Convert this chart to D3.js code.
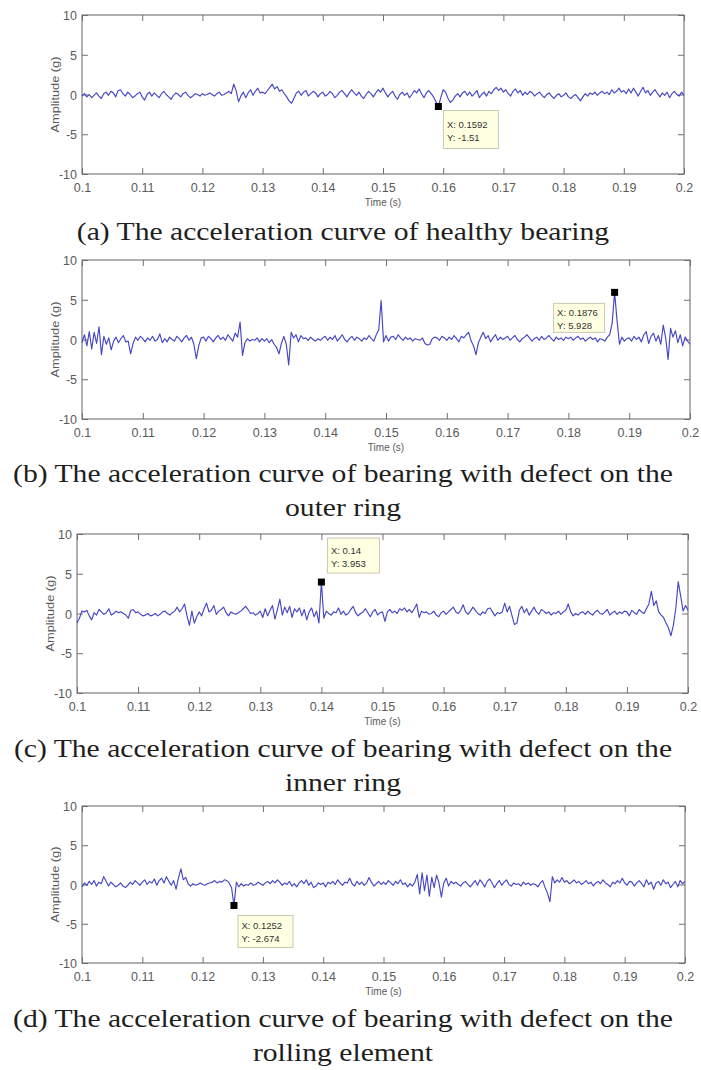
<!DOCTYPE html>
<html>
<head>
<meta charset="utf-8">
<script src="https://cdn.jsdelivr.net/npm/d3@7"></script>
<style>
  body { margin: 0; background: #fff; }
  svg { display: block; }
</style>
</head>
<body>
<svg id="fig" width="701" height="1070"></svg>
<script>
// Sampling grid of the recorded signals (s)
const timeStart = 0.1;
const samplePeriod = 0.0004;

// Axis ticks
const xTicks = [0.1, 0.11, 0.12, 0.13, 0.14, 0.15, 0.16, 0.17, 0.18, 0.19, 0.2];
const yTicks = [-10, -5, 0, 5, 10];

// Acceleration amplitude (g), one value per sample
const healthy = [
  -0.2,0.1,-0.3,0.0,-0.4,-0.1,0.2,-0.2,-0.5,0.1,0.3,-0.1,0.4,0.2,-0.3,0.5,0.6,0.1,-0.2,0.3,0.0,-0.4,-0.2,0.1,0.3,
  -0.3,-0.7,0.0,0.3,-0.2,0.2,-0.1,-0.4,0.1,0.4,0.0,-0.3,-0.6,-0.1,0.2,0.0,-0.3,0.1,0.3,-0.1,-0.4,-0.2,0.1,0.0,-0.2,
  0.1,-0.1,0.0,0.2,0.0,-0.2,0.1,0.3,-0.1,0.0,0.2,0.4,0.1,1.3,0.5,-0.9,-0.2,0.3,-0.4,0.2,0.6,-0.1,0.4,0.8,0.2,
  0.3,0.1,0.5,0.9,1.3,0.7,1.0,0.4,0.6,0.1,-0.3,-0.8,-1.1,-0.5,0.2,0.4,-0.1,0.3,0.5,-0.2,0.1,0.4,0.2,-0.3,0.1,
  0.3,-0.2,0.0,0.4,0.1,-0.4,-0.1,0.3,0.5,0.1,-0.3,0.2,0.6,0.2,-0.1,0.3,-0.2,-0.5,0.0,0.4,0.1,-0.3,0.2,0.6,0.3,
  0.8,0.2,-0.3,0.1,0.4,-0.2,-0.6,0.0,0.3,-0.1,0.2,-0.4,0.0,0.5,0.2,0.7,0.1,-0.4,0.2,0.5,0.1,-0.3,-0.9,-1.51,-0.4,
  0.6,0.3,-0.5,-1.0,-0.7,-0.2,0.1,-0.3,0.2,0.4,-0.1,0.3,-0.2,0.1,0.5,-0.4,0.0,0.3,-0.2,0.4,0.1,0.6,0.9,0.5,0.8,
  0.3,0.6,0.1,-0.2,0.4,0.7,0.2,0.5,-0.1,0.3,0.0,0.4,0.2,-0.2,0.1,0.3,-0.1,-0.4,0.0,0.2,-0.2,-0.5,-0.1,0.1,-0.3,
  -0.1,0.2,-0.3,-0.5,-0.2,0.0,-0.4,-0.8,-0.3,0.1,-0.2,0.2,0.0,0.3,-0.1,0.2,0.4,0.1,0.3,0.0,0.6,0.2,0.4,0.8,0.3,
  0.5,0.1,0.7,0.2,0.8,0.3,-0.2,0.4,0.9,0.2,0.5,-0.1,0.3,0.6,0.1,-0.3,0.2,-0.1,0.3,-0.4,0.1,0.4,0.0,-0.2,0.3,
  -0.1
];

const outerRing = [
  -0.4,0.6,-0.8,1.0,-1.2,0.9,-0.5,1.6,-1.9,0.4,-0.6,0.2,-1.3,-0.2,0.3,-0.4,0.1,0.5,-0.3,-0.2,-1.8,-0.5,0.3,-0.1,0.4,
  0.1,-0.3,0.2,-0.1,0.4,-0.2,0.0,0.7,-0.4,0.1,-0.3,0.3,0.0,-0.2,0.4,0.1,-0.3,0.2,0.5,-0.1,0.3,-0.6,-2.4,-0.8,0.2,
  0.3,-0.2,0.4,0.1,-0.3,0.2,0.5,0.0,0.3,-0.1,0.6,0.2,-0.2,0.8,0.3,2.2,-2.0,-0.4,0.1,-0.2,0.0,-0.1,0.2,-0.3,0.1,
  -0.2,0.1,-0.4,0.0,-0.6,-1.0,-1.8,-0.5,0.4,-0.6,-3.2,0.9,0.2,0.6,-0.3,0.5,0.1,0.2,-0.1,0.3,0.0,-0.2,0.1,-0.1,0.2,
  0.4,-0.1,0.3,0.0,0.5,-0.2,0.2,0.6,0.0,-0.3,0.1,0.4,-0.1,0.3,0.1,-0.2,0.2,0.0,0.5,0.1,-0.2,0.6,1.2,4.9,-0.3,
  0.5,-0.2,0.3,0.4,0.0,0.6,0.2,-0.1,0.3,0.0,0.2,-0.2,0.1,0.0,-0.1,0.2,-0.5,-0.7,-0.6,0.1,0.3,0.2,-0.1,0.4,0.2,
  -0.1,0.3,0.0,0.5,0.1,-0.3,0.4,0.2,0.6,0.9,-0.2,-0.8,-1.9,-0.4,0.3,0.9,0.1,0.5,-0.3,0.2,0.6,-0.1,0.3,0.0,0.2,
  0.4,-0.1,0.2,0.5,0.0,-0.3,0.1,0.3,0.6,0.2,-0.2,0.1,0.3,-0.1,0.4,0.0,0.2,0.5,0.1,-0.2,0.3,0.0,0.2,-0.1,0.3,
  0.1,0.3,-0.1,0.2,0.4,0.0,0.2,-0.2,0.1,0.3,0.0,0.2,-0.3,0.1,0.0,-0.2,0.3,0.6,2.1,5.928,2.4,-0.6,0.3,-0.2,0.1,
  0.2,-0.2,0.4,0.0,0.3,-0.3,0.6,1.0,-0.5,0.4,0.8,-0.2,0.5,-0.6,1.8,0.2,-2.5,1.4,0.3,1.1,-0.4,0.6,-0.8,0.3,-0.2,
  -0.6
];

const innerRing = [
  -1.2,-0.6,0.3,0.2,0.4,-0.3,-0.8,0.1,-0.2,0.5,0.2,-0.1,0.1,0.6,-0.2,0.0,0.3,0.1,0.2,0.0,-0.2,-0.6,0.4,0.5,0.1,
  0.2,-0.1,-0.3,-0.2,0.0,-0.3,-0.2,0.0,-0.3,-0.1,0.2,0.3,0.0,-0.2,0.1,0.3,0.8,0.2,0.6,1.2,-0.3,-1.5,0.3,-1.2,-0.4,
  0.2,-0.3,0.6,1.3,0.2,0.4,1.0,-0.1,0.3,0.5,0.8,0.1,-0.3,0.2,0.0,-0.1,0.1,0.3,0.6,0.9,0.5,0.0,0.1,-0.2,0.0,
  0.3,-0.5,0.6,-0.3,0.4,1.0,-0.7,0.5,1.8,-0.2,0.8,0.1,0.9,-0.5,0.6,0.2,0.7,-0.3,0.5,-0.8,0.2,0.7,-0.4,0.3,-1.2,
  3.953,-0.6,0.3,0.0,-0.2,0.2,0.1,0.7,-0.1,0.3,-0.2,0.0,0.5,0.9,0.1,-0.3,0.0,0.2,0.6,0.1,-0.4,0.2,0.5,-0.2,0.1,
  0.2,-1.0,0.2,0.5,0.1,0.3,0.0,0.6,0.4,0.7,0.2,0.5,0.1,0.6,1.2,-0.5,0.3,0.1,0.2,-0.1,0.0,0.3,-0.2,-0.4,0.1,
  0.3,-0.1,0.2,0.5,0.8,0.2,0.0,0.4,1.1,0.2,-0.1,0.3,0.8,0.4,0.0,-0.2,0.2,0.0,0.6,0.7,0.2,-0.3,0.1,0.0,0.2,
  1.3,0.2,0.9,-0.3,-1.4,-1.2,0.4,0.9,0.1,0.6,-0.2,0.3,0.8,0.2,-0.1,0.5,0.3,0.0,0.2,-0.2,0.1,0.0,0.3,-0.1,0.2,
  0.4,1.2,0.2,-0.3,0.0,-0.2,0.1,0.2,-0.1,0.3,0.0,-0.2,0.2,0.4,0.0,-0.1,0.2,0.5,-0.2,0.1,0.3,-0.1,0.2,0.0,0.3,
  0.2,-0.3,0.4,0.1,-0.1,0.5,0.2,0.0,0.6,1.2,2.8,1.0,1.6,0.2,-0.2,-0.5,-1.2,-1.8,-2.8,-1.5,0.6,4.0,2.2,0.3,1.0,
  0.4
];

const rollingElement = [
  -0.3,0.2,-0.1,0.4,0.0,0.5,-0.2,0.3,0.1,1.0,0.4,-0.2,0.3,0.0,-0.3,-0.1,0.2,-0.2,-0.4,-0.1,0.3,0.0,0.5,0.2,-0.1,
  0.3,0.6,0.0,0.4,0.2,0.7,-0.1,0.5,0.8,0.2,1.0,0.4,-0.1,0.5,-0.6,0.8,2.0,0.6,0.9,0.1,-0.2,0.1,-0.1,0.0,0.2,
  0.0,-0.1,0.1,0.2,0.3,0.5,0.2,0.4,0.3,0.6,0.5,0.2,-0.4,-2.674,0.3,-0.3,0.1,-0.2,0.0,-0.1,0.2,-0.1,0.0,0.3,0.1,
  -0.1,0.2,0.4,0.1,0.5,0.2,0.6,0.3,-0.1,0.2,0.0,0.4,-0.2,0.1,-0.3,0.2,0.5,0.1,0.6,-0.1,0.3,-0.4,-0.2,0.2,0.0,
  0.2,-0.3,0.3,0.1,0.4,0.0,0.6,0.2,-0.1,0.3,0.2,0.8,0.1,-0.2,0.4,0.0,0.3,-0.1,0.2,0.9,0.3,-0.2,0.1,0.4,0.0,
  0.3,0.0,0.5,0.2,-0.1,0.4,0.1,0.6,0.0,0.2,-0.3,0.1,-0.2,0.3,1.3,-1.2,1.5,-0.8,1.2,-1.5,0.9,-0.4,1.2,0.2,-1.6,
  0.2,0.8,-0.2,0.4,0.1,0.3,0.0,-0.2,0.2,0.4,0.0,-0.3,0.1,0.5,-0.1,0.6,0.2,-0.3,0.4,0.7,0.2,-0.4,0.1,0.5,-0.1,
  0.3,0.6,0.0,-0.2,0.2,0.0,0.1,-0.2,0.3,0.0,0.2,-0.1,0.1,0.0,-0.3,0.2,0.5,-0.4,-1.1,-2.2,1.0,0.2,0.6,0.3,0.9,
  0.3,0.5,0.1,0.3,0.6,0.2,0.4,0.0,0.2,0.5,0.1,0.3,-0.2,0.2,0.4,0.1,0.6,0.2,0.0,-0.3,0.3,0.1,0.5,0.2,0.8,
  0.2,-0.1,0.4,0.3,-0.2,0.2,0.5,0.1,-0.3,0.6,0.0,0.3,-0.6,0.2,0.4,-0.1,0.6,0.1,0.3,-0.4,0.0,0.4,-0.3,0.5,0.1,
  0.4
];

// Data tips (time in s, amplitude in g)
const tipTimes = [0.1592, 0.1876, 0.14, 0.1252];

// Caption lines under each panel
const captions = [
  ["(a) The acceleration curve of healthy bearing"],
  ["(b) The acceleration curve of bearing with defect on the", "outer ring"],
  ["(c) The acceleration curve of bearing with defect on the", "inner ring"],
  ["(d) The acceleration curve of bearing with defect on the", "rolling element"]
];

const xLabel = "Time (s)";
const yLabel = "Amplitude (g)";

// Panel geometry and data-tip box placement
const layout = [
  { series: healthy,        left: 82, right: 684, top: 15,  bottom: 174, capY: 240, tip: { dx: 5,   dy: 4,   w: 55, h: 38 } },
  { series: outerRing,      left: 82, right: 690, top: 260, bottom: 419, capY: 482, tip: { dx: -61, dy: 11,  w: 51, h: 29 } },
  { series: innerRing,      left: 77, right: 688, top: 534, bottom: 693, capY: 757, tip: { dx: 6,   dy: -44, w: 52, h: 35 } },
  { series: rollingElement, left: 82, right: 685, top: 806, bottom: 963, capY: 1027, tip: { dx: 4,  dy: 10,  w: 55, h: 32 } }
];

const frameColor = "#707070";
const labelColor = "#5a5a5a";
const traceColor = "#4646c4";
const sansFont = "'Liberation Sans', Arial, sans-serif";
const serifFont = "'Liberation Serif', 'Times New Roman', serif";

const svg = d3.select("#fig");

layout.forEach((p, k) => {
  const pts = p.series.map((v, i) => ({ t: timeStart + i * samplePeriod, v }));
  const x = d3.scaleLinear().domain([0.1, 0.2]).range([p.left, p.right]);
  const y = d3.scaleLinear().domain([-10, 10]).range([p.bottom, p.top]);
  const g = svg.append("g");

  // inward ticks on all four sides
  const bottomAxis = g.append("g").attr("transform", `translate(0,${p.bottom})`)
    .call(d3.axisBottom(x).tickValues(xTicks).tickSize(-6).tickFormat(d => String(d)));
  const topAxis = g.append("g").attr("transform", `translate(0,${p.top})`)
    .call(d3.axisTop(x).tickValues(xTicks).tickSize(-6).tickFormat(""));
  const leftAxis = g.append("g").attr("transform", `translate(${p.left},0)`)
    .call(d3.axisLeft(y).tickValues(yTicks).tickSize(-6).tickFormat(d => String(d)));
  const rightAxis = g.append("g").attr("transform", `translate(${p.right},0)`)
    .call(d3.axisRight(y).tickValues(yTicks).tickSize(-6).tickFormat(""));

  [bottomAxis, topAxis, leftAxis, rightAxis].forEach(a => {
    a.select(".domain").remove();
    a.selectAll("line").attr("stroke", frameColor);
  });
  bottomAxis.selectAll("text")
    .attr("y", 18).attr("dy", 0)
    .attr("font-family", sansFont).attr("font-size", 12.5).attr("fill", labelColor);
  leftAxis.selectAll("text")
    .attr("x", -5).attr("dy", "0.36em")
    .attr("font-family", sansFont).attr("font-size", 12.5).attr("fill", labelColor);

  // axes box
  g.append("rect")
    .attr("x", p.left).attr("y", p.top)
    .attr("width", p.right - p.left).attr("height", p.bottom - p.top)
    .attr("fill", "none").attr("stroke", frameColor).attr("stroke-width", 1.1);

  // signal trace
  g.append("path")
    .datum(pts)
    .attr("fill", "none")
    .attr("stroke", traceColor)
    .attr("stroke-width", 1.15)
    .attr("stroke-linejoin", "round")
    .attr("d", d3.line().x(d => x(d.t)).y(d => y(d.v)));

  // axis titles
  g.append("text")
    .attr("x", (p.left + p.right) / 2).attr("y", p.bottom + 31.5)
    .attr("text-anchor", "middle")
    .attr("font-family", sansFont).attr("font-size", 10).attr("fill", labelColor)
    .text(xLabel);
  g.append("text")
    .attr("transform", `translate(${p.left - 27},${(p.top + p.bottom) / 2}) rotate(-90)`)
    .attr("text-anchor", "middle").attr("dy", "0.35em")
    .attr("font-family", sansFont).attr("font-size", 10.5).attr("fill", labelColor)
    .attr("textLength", 76).attr("lengthAdjust", "spacingAndGlyphs")
    .text(yLabel);

  // data tip
  const idx = Math.round((tipTimes[k] - timeStart) / samplePeriod);
  const tipT = tipTimes[k];
  const tipV = p.series[idx];
  const mx = x(tipT), my = y(tipV);
  const bx = mx + p.tip.dx, by = my + p.tip.dy;
  g.append("rect")
    .attr("x", bx).attr("y", by).attr("width", p.tip.w).attr("height", p.tip.h)
    .attr("fill", "#ffffe1").attr("stroke", "#c9c9b0").attr("stroke-width", 1);
  const tipText = g.append("text")
    .attr("font-family", sansFont).attr("font-size", 9.5).attr("fill", "#333");
  tipText.append("tspan").attr("x", bx + 3.5).attr("y", by + p.tip.h / 2 - 2).text("X: " + String(tipT));
  tipText.append("tspan").attr("x", bx + 3.5).attr("y", by + p.tip.h / 2 + 11).text("Y: " + String(tipV));
  g.append("rect")
    .attr("x", mx - 3.5).attr("y", my - 3.5).attr("width", 7).attr("height", 7)
    .attr("fill", "#000");

  // caption
  captions[k].forEach((line, j) => {
    svg.append("g")
      .attr("transform", `translate(343,${p.capY + j * 34}) scale(1.14,1)`)
      .append("text")
      .attr("text-anchor", "middle")
      .attr("font-family", serifFont).attr("font-size", 26).attr("fill", "#1e1e1e")
      .text(line);
  });
});
</script>
</body>
</html>
